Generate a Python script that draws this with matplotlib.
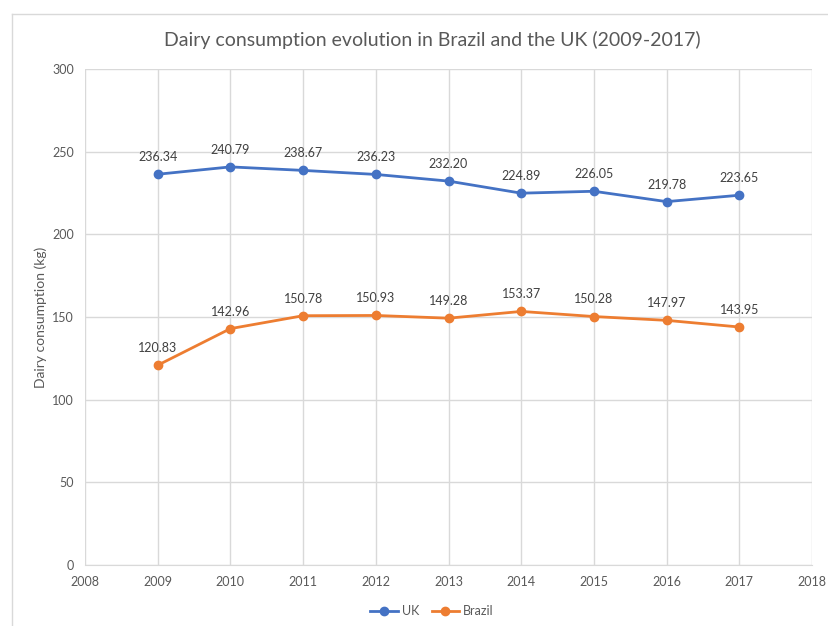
import matplotlib.pyplot as plt
from matplotlib.lines import Line2D

years = [2009, 2010, 2011, 2012, 2013, 2014, 2015, 2016, 2017]
uk = [236.34, 240.79, 238.67, 236.23, 232.20, 224.89, 226.05, 219.78, 223.65]
brazil = [120.83, 142.96, 150.78, 150.93, 149.28, 153.37, 150.28, 147.97, 143.95]

plt.rcParams['font.family'] = ['Lato', 'DejaVu Sans']

fig = plt.figure(figsize=(8.29, 6.26), dpi=100)
ax = fig.add_axes([85 / 829, 61 / 626, 727 / 829, 496 / 626])

# chart area border (top and left edges visible)
fig.add_artist(Line2D([12 / 829, 12 / 829], [0, 1 - 14 / 626], color='#d9d9d9', lw=1))
fig.add_artist(Line2D([12 / 829, 1], [1 - 14 / 626, 1 - 14 / 626], color='#d9d9d9', lw=1))

ax.plot(years, uk, color='#4472C4', lw=2, marker='o', ms=6, label='UK', zorder=3)
ax.plot(years, brazil, color='#ED7D31', lw=2, marker='o', ms=6, label='Brazil', zorder=3)

for x, y in zip(years, uk):
    ax.annotate(f'{y:.2f}', (x, y), xytext=(0, 8), textcoords='offset points',
                ha='center', va='bottom', fontsize=9, color='#404040')
for x, y in zip(years, brazil):
    ax.annotate(f'{y:.2f}', (x, y), xytext=(0, 8), textcoords='offset points',
                ha='center', va='bottom', fontsize=9, color='#404040')

ax.set_xlim(2008, 2018)
ax.set_ylim(0, 300)
ax.set_xticks(range(2008, 2019))
ax.set_yticks(range(0, 301, 50))
ax.grid(True, color='#d9d9d9', lw=1)
ax.set_axisbelow(True)
for side in ['top', 'right', 'left']:
    ax.spines[side].set_visible(False)
ax.spines['bottom'].set_color('#d9d9d9')
ax.tick_params(length=0, labelsize=9, colors='#595959', pad=8)

ax.set_ylabel('Dairy consumption (kg)', fontsize=10, color='#595959', labelpad=4)
fig.suptitle('Dairy consumption evolution in Brazil and the UK (2009-2017)',
             x=432 / 829, y=1 - 40 / 626, va='center', fontsize=14, color='#595959')

fig.legend(loc='center', bbox_to_anchor=(432 / 829, 1 - 611 / 626), ncol=2,
           frameon=False, fontsize=9, labelcolor='#595959', handlelength=2.2,
           columnspacing=1.0, handletextpad=0.3)

fig.savefig('out.png', dpi=100)
